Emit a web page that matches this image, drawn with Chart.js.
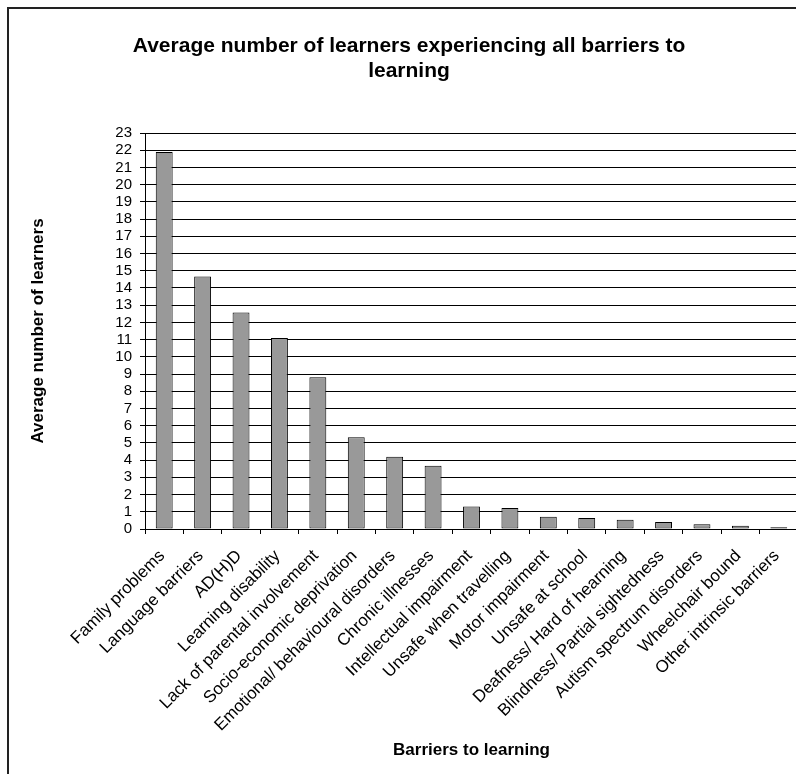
<!DOCTYPE html>
<html>
<head>
<meta charset="utf-8">
<script src="https://cdn.jsdelivr.net/npm/chart.js@4.4.1/dist/chart.umd.min.js"></script>
<style>
  html, body { margin: 0; padding: 0; background: #fff; overflow: hidden; width: 796px; height: 774px; }
  #frame { position: absolute; left: 7px; top: 7px; width: 900px; height: 900px;
           border-left: 2px solid #222; border-top: 2px solid #222; pointer-events: none; }
  #chart { position: absolute; left: 0; top: 0; }
</style>
</head>
<body>
<div id="frame"></div>
<canvas id="chart" width="834" height="774"></canvas>
<script>
const titleLines = ['Average number of learners experiencing all barriers to', 'learning'];
const xTitle = 'Barriers to learning';
const yTitle = 'Average number of learners';

const barriers = [
  'Family problems', 'Language barriers', 'AD(H)D', 'Learning disability',
  'Lack of parental involvement', 'Socio-economic deprivation',
  'Emotional/ behavioural disorders', 'Chronic illnesses', 'Intellectual impairment',
  'Unsafe when travelling', 'Motor impairment', 'Unsafe at school',
  'Deafness/ Hard of hearning', 'Blindness/ Partial sightedness',
  'Autism spectrum disorders', 'Wheelchair bound', 'Other intrinsic barriers'
];
const avgLearners = [21.9, 14.67, 12.58, 11.1, 8.82, 5.33, 4.19, 3.67, 1.31, 1.22, 0.71, 0.64, 0.54, 0.41, 0.27, 0.19, 0.1];

const yMin = 0;
const yMax = 23;
const yStep = 1;

const FONT = '"Liberation Sans", Arial, sans-serif';

const ctx = document.getElementById('chart').getContext('2d');
new Chart(ctx, {
  type: 'bar',
  data: {
    labels: barriers,
    datasets: [{
      data: avgLearners,
      backgroundColor: '#999999',
      borderColor: '#000',
      borderWidth: 1,
      borderSkipped: false,
      barPercentage: 0.44,
      categoryPercentage: 1
    }]
  },
  options: {
    responsive: false,
    animation: false,
    devicePixelRatio: 1,
    layout: { padding: { left: 0, right: 16, top: 0, bottom: 0 } },
    plugins: {
      legend: { display: false },
      tooltip: { enabled: false },
      title: {
        display: true,
        text: titleLines,
        color: '#000',
        font: { family: FONT, size: 21, weight: 'bold', lineHeight: 25 / 21 },
        padding: { top: 34, bottom: 49 }
      }
    },
    scales: {
      x: {
        grid: { drawOnChartArea: false, drawTicks: true, tickLength: 5, color: '#000', offset: true },
        border: { display: true, color: '#000', width: 1 },
        ticks: {
          color: '#000', font: { family: FONT, size: 17 },
          minRotation: 45, maxRotation: 45, autoSkip: false, padding: 12, labelOffset: -2
        },
        title: {
          display: true, text: xTitle, color: '#000',
          font: { family: FONT, size: 17, weight: 'bold', lineHeight: 1.2 },
          padding: { top: 0, bottom: 13 }
        },
        afterFit: (scale) => { scale.height = 245; }
      },
      y: {
        min: yMin, max: yMax,
        grid: { color: '#000', lineWidth: 1, tickLength: 5, drawTicks: true },
        border: { display: true, color: '#000', width: 1 },
        ticks: {
          stepSize: yStep, autoSkip: false, color: '#000', padding: 8,
          font: { family: FONT, size: 15 }
        },
        title: {
          display: true, text: yTitle, color: '#000',
          font: { family: FONT, size: 17, weight: 'bold', lineHeight: 1.2 },
          padding: { top: 28, bottom: 0 }
        },
        afterFit: (scale) => { scale.width = 145; }
      },
      // empty right-hand space so the chart title centres like the original
      spacer: {
        type: 'linear', position: 'right', display: true,
        ticks: { display: false },
        grid: { display: false },
        border: { display: false },
        afterFit: (scale) => { scale.width = 20; }
      }
    }
  }
});
</script>
</body>
</html>
